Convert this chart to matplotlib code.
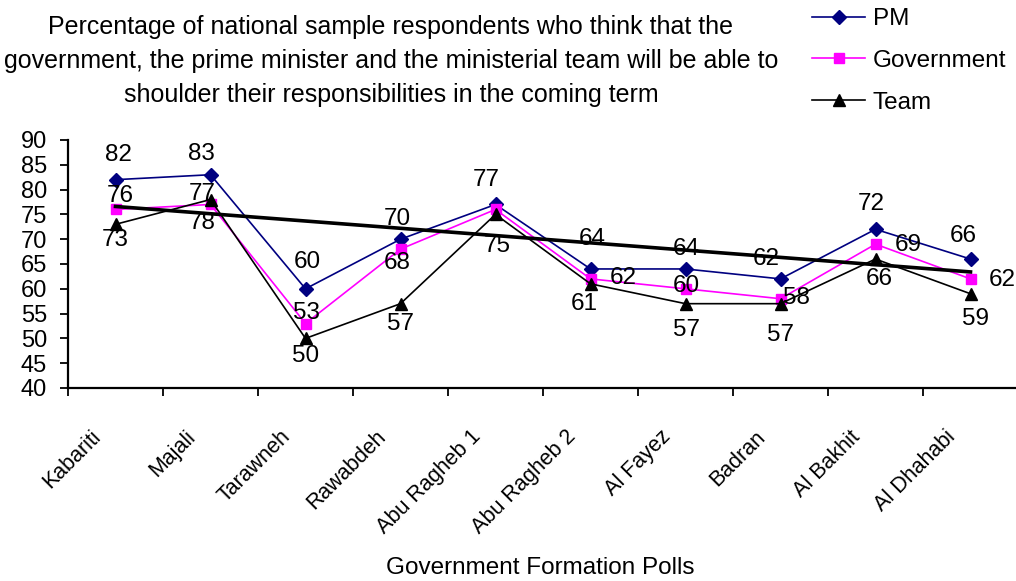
import numpy as np
import matplotlib
matplotlib.use("Agg")
import matplotlib.pyplot as plt
from matplotlib.transforms import ScaledTranslation

categories = ["Kabariti", "Majali", "Tarawneh", "Rawabdeh", "Abu Ragheb 1",
              "Abu Ragheb 2", "Al Fayez", "Badran", "Al Bakhit", "Al Dhahabi"]
pm = [82, 83, 60, 70, 77, 64, 64, 62, 72, 66]
government = [76, 77, 53, 68, 76, 62, 60, 58, 69, 62]
team = [73, 78, 50, 57, 75, 61, 57, 57, 66, 59]
y_ticks = [40, 45, 50, 55, 60, 65, 70, 75, 80, 85, 90]

title = ("Percentage of national sample respondents who think that the\n"
         "government, the prime minister and the ministerial team will be able to\n"
         "shoulder their responsibilities in the coming term")

# label offsets (pixels) - styling only
pm_off = [(3, 25), (-9, 21), (2, 27), (-3, 20), (-9, 24), (2, 30), (1, 20), (-14, 20), (-4, 25), (-7, 23)]
gov_off = [(5, 13), (-8, 10), (1, 11), (-3, -14), None, (33, 1), (1, 3), (16, 1), (33, -1), (32, -1)]
team_off = [(0, -16), (-8, -23), (0, -18), (0, -20), (2, -32), (-6, -20), (1, -26), (0, -31), (4, -20), (5, -25)]

plt.rcParams['font.family'] = ['Liberation Sans', 'DejaVu Sans']

fig = plt.figure(figsize=(10.16, 5.81), dpi=100)
W, H = 1016, 581
ax = fig.add_axes([68 / W, 1 - 388 / H, 950 / W, (388 - 140) / H])

x = np.arange(len(categories)) + 0.5
ax.plot(x, pm, color='#000080', lw=1.2, marker='D', ms=7.5, label='PM', zorder=3)
ax.plot(x, government, color='#FF00FF', lw=1.2, marker='s', ms=7.5, label='Government', zorder=3)
ax.plot(x, team, color='black', lw=1.2, marker='^', ms=8.5, label='Team', zorder=3)

# linear trend of PM
coef = np.polyfit(x, pm, 1)
ax.plot(x, np.polyval(coef, x), color='black', lw=2.6, zorder=4)

fs = 17.5
for vals, offs in ((pm, pm_off), (government, gov_off), (team, team_off)):
    for xi, v, o in zip(x, vals, offs):
        if o is None:
            continue
        ax.annotate(f"{v}", (xi, v), xytext=o, textcoords='offset pixels',
                    ha='center', va='center', fontsize=fs, zorder=5)

ax.set_xlim(0, 10)
ax.set_ylim(40, 90)
ax.set_yticks(y_ticks)
ax.tick_params(axis='y', direction='out', length=6, width=1.3, pad=9, labelsize=17)
ax.set_xticks(np.arange(0, 10))
ax.set_xticks(x, minor=True)
ax.set_xticklabels([], minor=False)
ax.set_xticklabels(categories, minor=True, rotation=45, ha='right', va='center',
                   rotation_mode='anchor', fontsize=15.5)
ax.tick_params(axis='x', which='major', direction='out', length=6, width=1.3)
ax.tick_params(axis='x', which='minor', length=0, pad=33)
shift = ScaledTranslation(-18 / 100, 0, fig.dpi_scale_trans)
for lab in ax.get_xticklabels(minor=True):
    lab.set_transform(lab.get_transform() + shift)

for s in ('top', 'right'):
    ax.spines[s].set_visible(False)
for s in ('left', 'bottom'):
    ax.spines[s].set_linewidth(1.6)

fig.text(391 / W, 1 - 61 / H, title, ha='center', va='center', fontsize=18,
         linespacing=1.52)
fig.text(540 / W, 1 - 568 / H, "Government Formation Polls", ha='center', va='center',
         fontsize=17.5)

handles, labels = ax.get_legend_handles_labels()
fig.legend(handles, labels, loc='upper left', bbox_to_anchor=(812 / W, 1 - 8 / H),
           frameon=False, fontsize=17.5, borderpad=0, borderaxespad=0,
           handlelength=2.2, handletextpad=0.3, labelspacing=0.82)

fig.savefig('out.png', dpi=100)
